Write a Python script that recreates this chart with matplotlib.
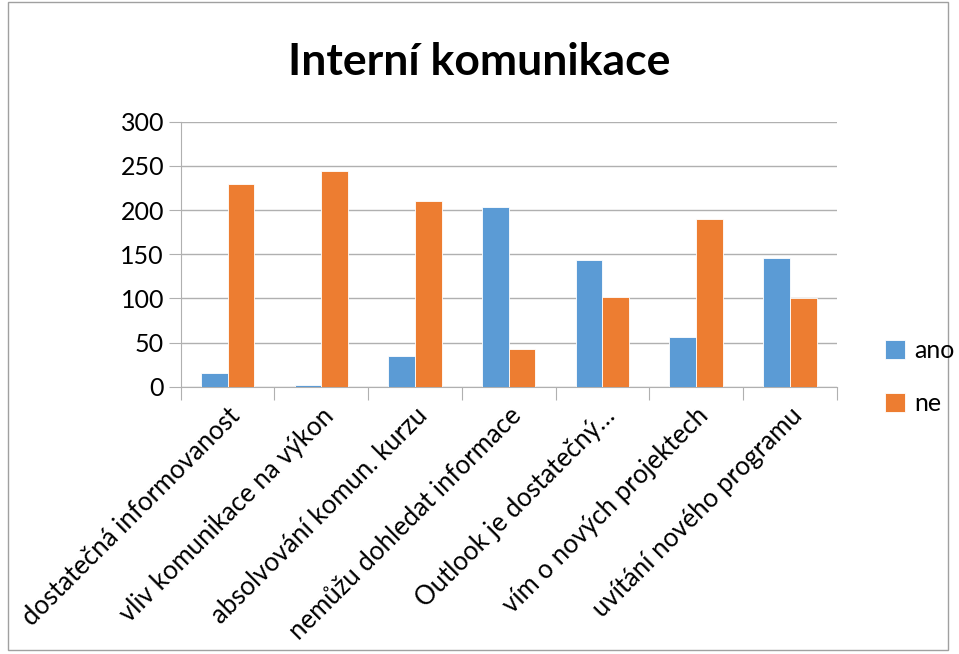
import matplotlib
matplotlib.use('Agg')
import matplotlib.pyplot as plt
import numpy as np

# data
categories = ["dostatečná informovanost", "vliv komunikace na výkon",
              "absolvování komun. kurzu", "nemůžu dohledat informace",
              "Outlook je dostatečný…", "vím o nových projektech",
              "uvítání nového programu"]
ano = [15, 2, 35, 203, 144, 56, 146]
ne = [230, 244, 210, 43, 101, 190, 100]
yticks = [0, 50, 100, 150, 200, 250, 300]

plt.rcParams['font.family'] = ['Lato', 'DejaVu Sans']

fig = plt.figure(figsize=(9.59, 6.54), dpi=100)
ax = fig.add_axes([180.7 / 959, 1 - 386.7 / 654, (836.7 - 180.7) / 959, (386.7 - 121.7) / 654])

x = np.arange(len(categories))
w = 0.285
ax.bar(x - w / 2, ano, w, color='#5B9BD5', edgecolor='white', linewidth=0.6, label='ano', zorder=3)
ax.bar(x + w / 2, ne, w, color='#ED7D31', edgecolor='white', linewidth=0.6, label='ne', zorder=3)

ax.set_xlim(-0.5, len(categories) - 0.5)
ax.set_ylim(0, 300)
ax.set_yticks(yticks)
ax.set_yticklabels([str(v) for v in yticks], fontsize=18)
ax.yaxis.grid(True, color='#B0B0B0', linewidth=1.0, zorder=0)
ax.tick_params(axis='y', length=9, color='#B0B0B0', pad=3)

# category ticks at the boundaries, labels at centres
ax.set_xticks(np.arange(len(categories) + 1) - 0.5)
ax.set_xticklabels([])
ax.tick_params(axis='x', length=9, color='#B0B0B0')
ax.set_xticks(x, minor=True)
ax.set_xticklabels(categories, minor=True, rotation=45, ha='right',
                   rotation_mode='anchor', fontsize=18.5)
ax.tick_params(axis='x', which='minor', length=0, pad=12)

for s in ['top', 'right']:
    ax.spines[s].set_visible(False)
ax.spines['left'].set_color('#B0B0B0')
ax.spines['bottom'].set_color('#B0B0B0')

fig.text(0.5, 1 - 62 / 654, "Interní komunikace", ha='center', va='center',
         fontsize=32, fontweight='bold')

leg = fig.legend(loc='center left', bbox_to_anchor=(862 / 959, 1 - 377 / 654),
                 frameon=False, fontsize=18, handlelength=0.8, handleheight=0.8,
                 labelspacing=1.2, handletextpad=0.4)

# chart frame
fig.patches.append(plt.Rectangle((8 / 959, 4 / 654), 940 / 959, 648 / 654,
                                 transform=fig.transFigure, fill=False,
                                 edgecolor='#A0A0A0', linewidth=1))

plt.savefig('out.png')
